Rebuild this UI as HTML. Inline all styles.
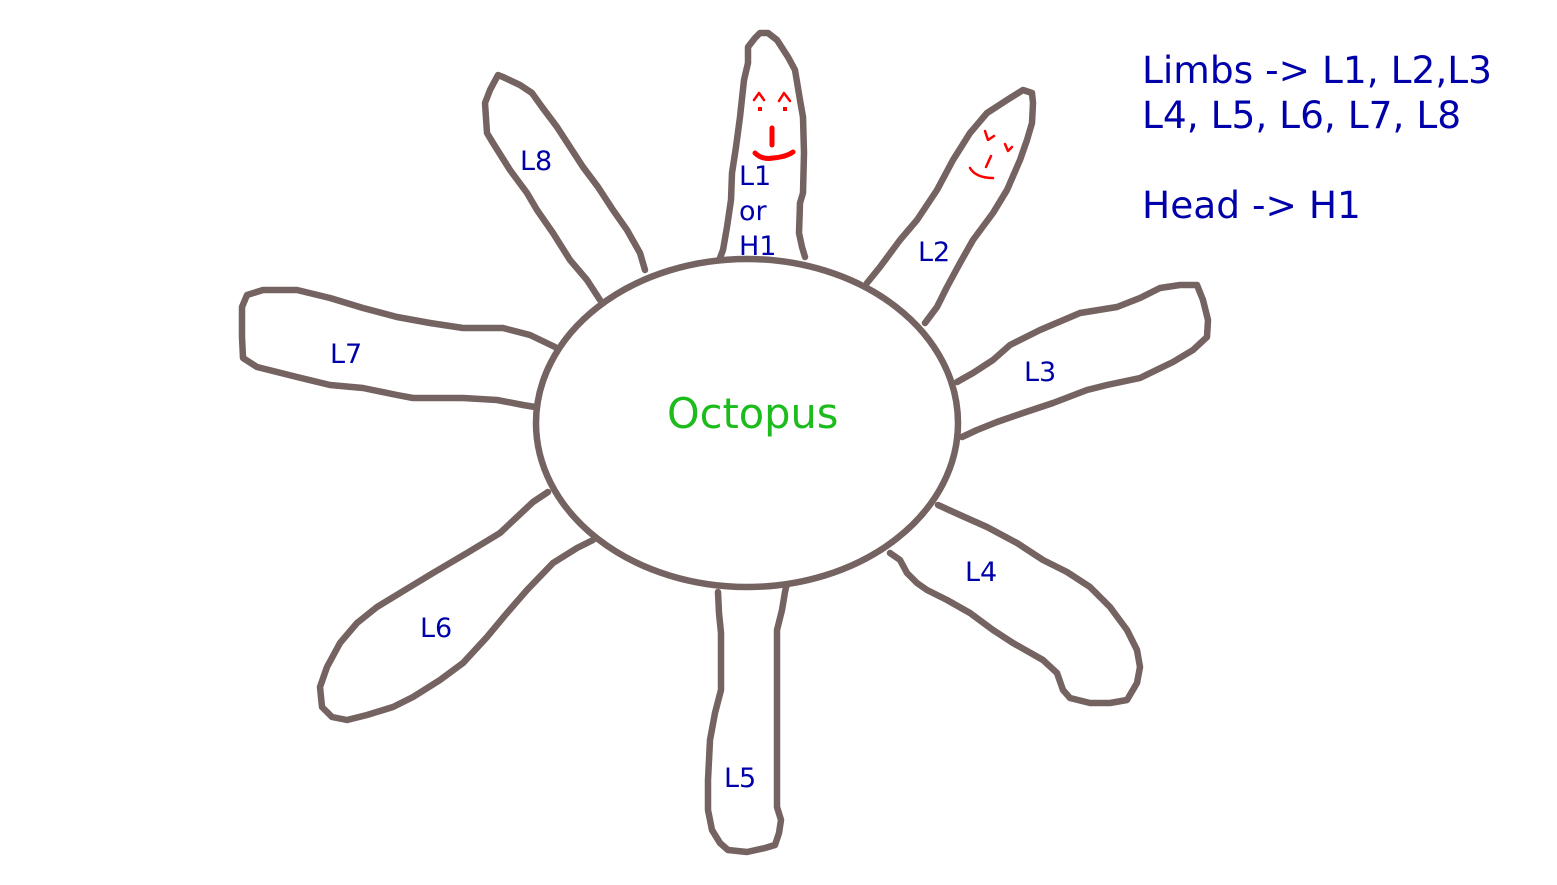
<!DOCTYPE html>
<html><head><meta charset="utf-8"><style>
html,body{margin:0;padding:0;background:#fff;}
svg{display:block;}
text{font-family:"DejaVu Sans","Liberation Sans",sans-serif;}
</style></head><body>
<svg width="1557" height="885" viewBox="0 0 1557 885" xmlns="http://www.w3.org/2000/svg">
<rect width="1557" height="885" fill="#fff"/>
<g fill="none" stroke="#756362" stroke-width="6.5" stroke-linejoin="round" stroke-linecap="round">
<!-- L1 -->
<polyline points="720,258 723,250 727,227 731,200 732,173 736,147 740,117 744,80 748,63 748,47 755,38 760,33 768,33 777,40 788,57 795,70 800,100 803,117 804,153 803,193 800,203 799,233 802,247 805,257"/>
<!-- L2 -->
<polyline points="867,283 880,267 900,240 917,220 937,190 953,160 970,133 987,113 1007,100 1023,90 1032,93 1033,103 1032,123 1027,140 1020,160 1007,190 993,213 973,240 960,263 947,287 937,307 925,323"/>
<!-- L3 -->
<polyline points="957,382 973,373 993,360 1010,345 1040,330 1080,313 1117,307 1140,298 1160,288 1180,285 1197,285 1203,300 1208,320 1207,337 1193,350 1173,362 1140,378 1107,385 1087,390 1053,403 1023,413 997,422 977,430 962,437"/>
<!-- L4 -->
<polyline points="938,505 960,515 987,527 1017,543 1043,560 1067,572 1090,587 1110,607 1127,630 1137,650 1140,667 1137,683 1127,700 1110,703 1090,703 1070,698 1063,690 1057,673 1043,660 1013,643 993,630 970,613 947,600 927,590 917,583 907,573 900,560 890,553"/>
<!-- L5 -->
<polyline points="718,592 719,613 721,633 721,690 715,713 710,740 708,780 708,810 712,830 720,843 728,850 747,852 765,848 775,845 779,833 781,820 777,807 777,780 777,647 777,630 782,610 785,592 787,583"/>
<!-- L6 -->
<polyline points="548,492 533,502 517,517 500,533 467,553 433,573 400,593 377,607 357,623 340,643 327,667 320,687 322,707 332,717 347,720 367,715 393,707 413,697 440,680 463,663 487,637 507,613 527,590 553,563 577,548 593,540"/>
<!-- L7 -->
<polyline points="555,347 530,335 503,328 463,328 430,323 397,317 363,308 330,298 297,290 263,290 247,295 242,307 242,337 243,358 257,367 297,377 330,385 363,388 397,395 413,398 463,398 497,400 523,405 535,407"/>
<!-- L8 -->
<polyline points="600,300 587,280 570,260 553,233 537,210 527,193 510,170 493,143 487,133 485,103 490,90 498,75 503,77 520,85 532,93 542,107 557,127 570,147 583,167 598,187 613,210 627,230 640,253 645,270"/>
<!-- body -->
<ellipse cx="747" cy="423" rx="211" ry="164" fill="#fff"/>
</g>
<!-- faces -->
<g fill="none" stroke="#ff0000" stroke-linecap="round" stroke-linejoin="round">
<polyline points="754,100 759,93 764,100" stroke-width="2.5"/>
<polyline points="779,101 784,93 790,101" stroke-width="2.5"/>
<line x1="772" y1="128" x2="772" y2="145" stroke-width="5"/>
<path d="M755,153 Q762,160 773,158 Q786,157 793,152" stroke-width="5"/>
<polyline points="985,131 988,140 994,136" stroke-width="2.5"/>
<polyline points="1005,144 1008,151 1012,147" stroke-width="2.5"/>
<line x1="991" y1="156" x2="986" y2="167" stroke-width="2.5"/>
<path d="M970,168 Q976,178 993,178" stroke-width="2.5"/>
</g>
<g fill="#ff0000">
<rect x="758" y="107" width="4" height="4"/>
<rect x="783" y="107" width="4" height="4"/>
</g>
<!-- labels -->
<g fill="#0000aa" font-size="27">
<text x="520" y="170">L8</text>
<text x="739" y="185">L1</text>
<text x="739" y="220">or</text>
<text x="739" y="255">H1</text>
<text x="918" y="261">L2</text>
<text x="1024" y="381">L3</text>
<text x="965" y="581">L4</text>
<text x="724" y="787">L5</text>
<text x="420" y="637">L6</text>
<text x="330" y="363">L7</text>
</g>
<text x="667" y="428" fill="#1cbc1c" font-size="41.5">Octopus</text>
<g fill="#0000aa" font-size="37.5">
<text x="1142" y="83">Limbs -&gt; L1, L2,L3</text>
<text x="1142" y="128">L4, L5, L6, L7, L8</text>
<text x="1142" y="218">Head -&gt; H1</text>
</g>
</svg>
</body></html>
